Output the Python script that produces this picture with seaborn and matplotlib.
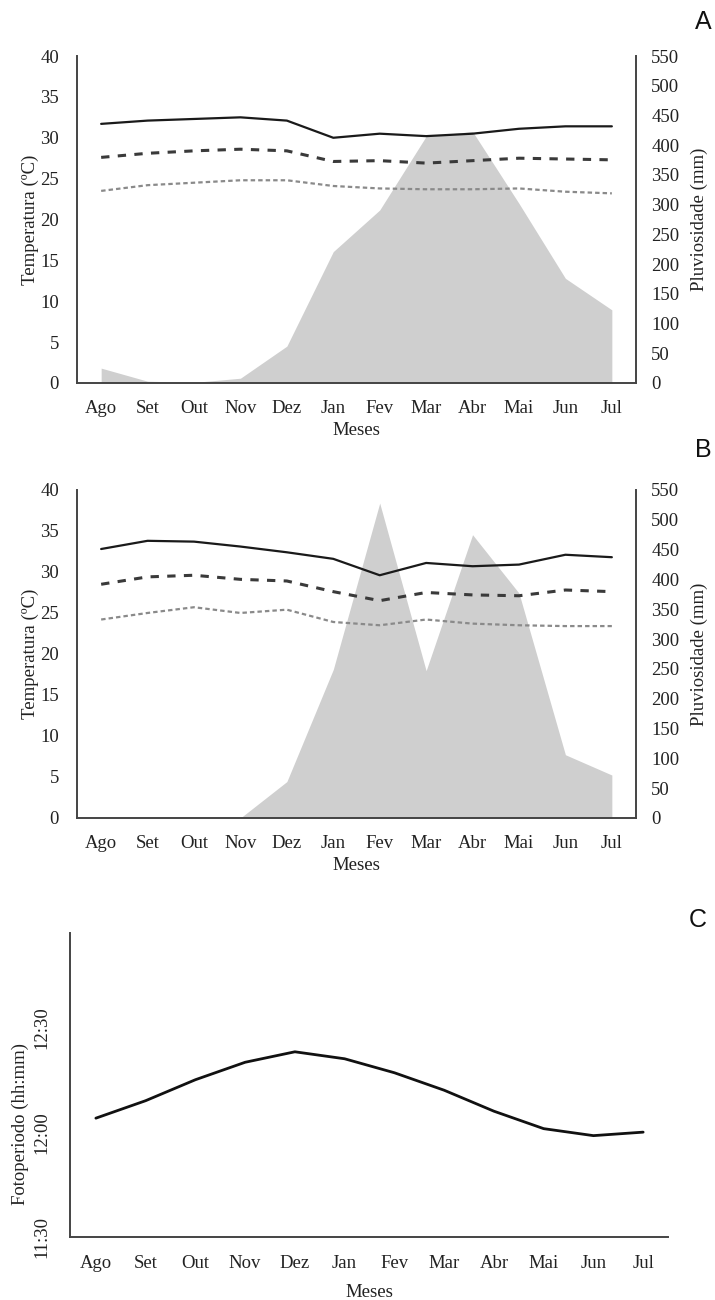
import matplotlib
matplotlib.use("Agg")
import matplotlib.pyplot as plt
import seaborn as sns
import pandas as pd
import numpy as np
from matplotlib.ticker import FuncFormatter

# dados
meses = ["Ago", "Set", "Out", "Nov", "Dez", "Jan", "Fev", "Mar", "Abr", "Mai", "Jun", "Jul"]

# painel A
tmax_a = [31.7, 32.1, 32.3, 32.5, 32.1, 30.0, 30.5, 30.2, 30.5, 31.1, 31.4, 31.4]
tmed_a = [27.6, 28.1, 28.4, 28.6, 28.4, 27.1, 27.2, 26.9, 27.2, 27.5, 27.4, 27.3]
tmin_a = [23.5, 24.2, 24.5, 24.8, 24.8, 24.1, 23.8, 23.7, 23.7, 23.8, 23.4, 23.2]
chuva_a = [25, 3, 1, 8, 62, 221, 291, 415, 423, 302, 176, 123]

# painel B
tmax_b = [32.8, 33.8, 33.7, 33.1, 32.4, 31.6, 29.6, 31.1, 30.7, 30.9, 32.1, 31.8]
tmed_b = [28.5, 29.4, 29.6, 29.1, 28.9, 27.6, 26.5, 27.5, 27.2, 27.1, 27.8, 27.6]
tmin_b = [24.2, 25.0, 25.7, 25.0, 25.4, 23.9, 23.5, 24.2, 23.7, 23.5, 23.4, 23.4]
chuva_b = [0, 0, 0, 0, 61, 249, 528, 247, 475, 377, 106, 72]

# painel C - fotoperiodo
fotoperiodo = ["12:04", "12:09", "12:15", "12:20", "12:23", "12:21",
               "12:17", "12:12", "12:06", "12:01", "11:59", "12:00"]

sns.set_theme(style="white")
plt.rcParams["font.family"] = ["Liberation Serif", "DejaVu Serif"]
plt.rcParams["lines.scale_dashes"] = False

fig = plt.figure(figsize=(7.15, 13.0), dpi=100)
fs = 13.5
spine_col = "#444444"
x = np.arange(len(meses))


def painel_temp(rect, tmax, tmed, tmin, chuva):
    ax = fig.add_axes(rect)
    ax2 = ax.twinx()
    ax2.fill_between(x, 0, chuva, color="#cfcfcf", lw=0)

    df = pd.DataFrame({"mes": x, "max": tmax, "med": tmed, "min": tmin})
    sns.lineplot(data=df, x="mes", y="max", ax=ax, color="#1a1a1a", lw=1.6)
    sns.lineplot(data=df, x="mes", y="med", ax=ax, color="#3a3a3a", lw=2.2,
                 linestyle=(0, (6, 6)))
    sns.lineplot(data=df, x="mes", y="min", ax=ax, color="#8a8a8a", lw=1.6,
                 linestyle=(0, (3.2, 2.2)))

    ax.set_zorder(ax2.get_zorder() + 1)
    ax.patch.set_visible(False)

    ax.set_xlim(-0.52, 11.52)
    ax.set_ylim(0, 40)
    ax.set_yticks(range(0, 41, 5))
    ax2.set_ylim(0, 550)
    ax2.set_yticks(range(0, 551, 50))
    ax.set_xticks(x)
    ax.set_xticklabels(meses)

    ax.tick_params(axis="x", length=0, pad=12, labelsize=fs, colors="#222222")
    ax.tick_params(axis="y", length=0, pad=13, labelsize=fs, colors="#222222")
    ax2.tick_params(axis="y", length=0, pad=11, labelsize=fs, colors="#222222")

    for s in ["top", "right"]:
        ax.spines[s].set_visible(False)
    for s in ["top", "left", "bottom"]:
        ax2.spines[s].set_visible(False)
    for s in ["left", "bottom"]:
        ax.spines[s].set_color(spine_col)
        ax.spines[s].set_linewidth(1.4)
    ax2.spines["right"].set_color(spine_col)
    ax2.spines["right"].set_linewidth(1.4)

    ax.set_xlabel("Meses", fontsize=fs, color="#222222")
    ax.set_ylabel("Temperatura (ºC)", fontsize=fs, color="#222222")
    ax2.set_ylabel("Pluviosidade (mm)", fontsize=fs, color="#222222")
    ax.xaxis.set_label_coords(0.5, -0.118)
    ax.yaxis.set_label_coords(-0.068, 0.5)
    ax2.yaxis.set_label_coords(1.098, 0.5)
    return ax


painel_temp([0.1077, 0.7054, 0.7818, 0.2515], tmax_a, tmed_a, tmin_a, chuva_a)
painel_temp([0.1077, 0.3708, 0.7818, 0.2523], tmax_b, tmed_b, tmin_b, chuva_b)

# painel C
minutos = [int(h) * 60 + int(m) for h, m in (t.split(":") for t in fotoperiodo)]
axc = fig.add_axes([0.0979, 0.0485, 0.8364, 0.2338])
sns.lineplot(x=x, y=minutos, ax=axc, color="#111111", lw=2.0)
axc.set_xlim(-0.52, 11.5)
axc.set_ylim(690, 777)
axc.set_yticks([690, 720, 750])
axc.yaxis.set_major_formatter(FuncFormatter(lambda v, p: f"{int(v) // 60}:{int(v) % 60:02d}"))
axc.set_xticks(x)
axc.set_xticklabels(meses)
axc.tick_params(axis="x", length=0, pad=13, labelsize=fs, colors="#222222")
axc.tick_params(axis="y", length=0, pad=14, labelsize=fs, colors="#222222",
                labelrotation=90)
for t in axc.get_yticklabels():
    t.set_va("center")
for s in ["top", "right"]:
    axc.spines[s].set_visible(False)
for s in ["left", "bottom"]:
    axc.spines[s].set_color(spine_col)
    axc.spines[s].set_linewidth(1.4)
axc.set_xlabel("Meses", fontsize=fs, color="#222222")
axc.set_ylabel("Fotoperiodo (hh:mm)", fontsize=fs, color="#222222")
axc.xaxis.set_label_coords(0.5, -0.155)
axc.yaxis.set_label_coords(-0.068, 0.372)

# letras dos paineis
for letra, (px, py) in zip(["A", "B", "C"], [(703, 22), (703, 450), (698, 920)]):
    fig.text(px / 715, 1 - py / 1300, letra, ha="center", va="center",
             fontsize=18, family="Liberation Sans", color="#111111")

fig.savefig("out.png", dpi=100)
